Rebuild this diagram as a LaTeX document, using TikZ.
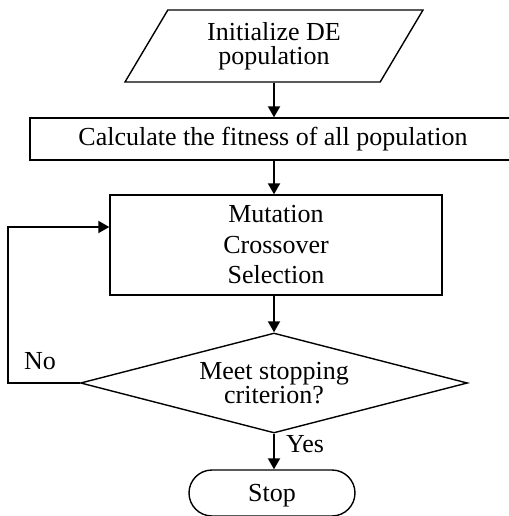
\documentclass[tikz,border=0pt]{standalone}
\usepackage{fontspec}
\setmainfont{Liberation Serif}
\usetikzlibrary{shapes.geometric,shapes.misc,arrows.meta}

\begin{document}
\begin{tikzpicture}[x=0.5pt,y=-0.5pt,
    every node/.style={font=\fontsize{13}{12}\selectfont},
    procbox/.style={draw,line width=0.7pt,inner sep=0pt},
    flowarrow/.style={-{Triangle[length=5.5pt,width=6pt]},line width=1pt}]
  \useasboundingbox (0,0) rectangle (509,516);
  \clip (0,0) rectangle (509,516);
  % flowchart blocks
  \node[procbox,trapezium,trapezium left angle=48,trapezium right angle=132,
        trapezium stretches body,minimum width=149pt,minimum height=36pt,align=center]
        (init) at (274,46) {Initialize DE\\population};
  \node[procbox,minimum width=250pt,minimum height=21pt] (calc) at (280,139)
        {\hspace*{-7pt}Calculate the fitness of all population};
  \node[procbox,minimum width=166pt,minimum height=50pt,align=center,
        font=\fontsize{13}{15.25}\selectfont] (ops) at (276,245)
        {Mutation\\Crossover\\Selection};
  \node[procbox,diamond,aspect=3.87,minimum width=193.5pt,minimum height=50pt,
        align=center,font=\fontsize{13}{10.5}\selectfont] (crit) at (274,383)
        {Meet stopping\\criterion?};
  \node[procbox,rounded rectangle,minimum width=83pt,minimum height=23pt,
        text depth=0pt] (stop) at (272,493) {Stop};
  \node (no) at (40,361) {No};
  \node (yes) at (305,444) {Yes};
  \coordinate (loopcorner) at (8,383);
  % connectors
  \draw[flowarrow] (init.south) -- (init.south |- calc.north);
  \draw[flowarrow] (init.south |- calc.south) -- (init.south |- ops.north);
  \draw[flowarrow] (crit.north |- ops.south) -- (crit.north);
  \draw[flowarrow] (crit.south) -- (crit.south |- stop.north);
  \draw[flowarrow] (crit.west) -- (loopcorner) |- ([yshift=9pt]ops.west);
\end{tikzpicture}
\end{document}
